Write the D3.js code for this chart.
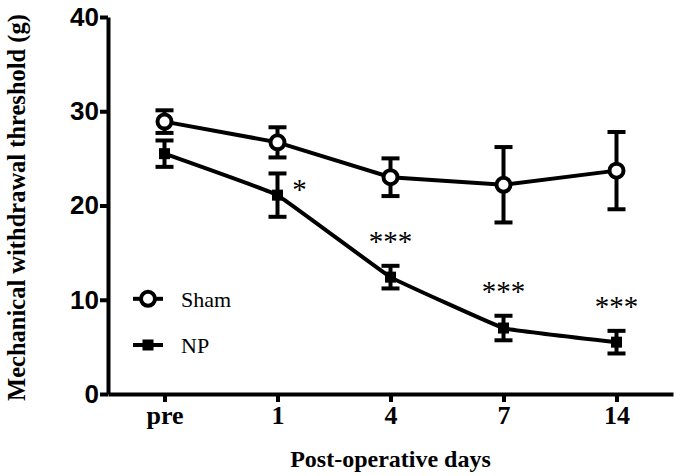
<!DOCTYPE html>
<meta charset="utf-8">
<script src="https://d3js.org/d3.v7.min.js"></script>
<style>
  body { margin: 0; background: #fff; }
</style>
<div id="chart"></div>
<script>

// data (mean and SEM)
var days = ["pre", "1", "4", "7", "14"];
var shamMean = [28.9, 26.7, 23.0, 22.2, 23.7];
var shamErr  = [1.2, 1.6, 2.0, 4.0, 4.1];
var npMean   = [25.5, 21.1, 12.4, 7.0, 5.5];
var npErr    = [1.4, 2.3, 1.2, 1.3, 1.2];
var marks    = ["", "*", "***", "***", "***"];
var yTicks   = [0, 10, 20, 30, 40];

var W = 680, H = 476;
var margin = {top: 17, right: 7, bottom: 82, left: 108},
    width = W - margin.left - margin.right,
    height = H - margin.top - margin.bottom;

var serif = "'Liberation Serif', 'Times New Roman', serif";

var svg = d3.select("#chart")
  .append("svg")
    .attr("width", W)
    .attr("height", H)
  .append("g")
    .attr("transform", "translate(" + margin.left + "," + margin.top + ")");

// x is a linear index scale so the axis runs half a step past each end
var x = d3.scaleLinear()
  .domain([-0.5, days.length - 0.5])
  .range([0, width]);

var y = d3.scaleLinear()
  .domain([0, 40])
  .range([height, 0]);

// axes
var xAxis = svg.append("g")
  .attr("transform", "translate(0," + height + ")")
  .call(d3.axisBottom(x)
    .tickValues(d3.range(days.length))
    .tickFormat(function(i) { return days[i]; })
    .tickSize(8)
    .tickSizeOuter(0));

var yAxis = svg.append("g")
  .call(d3.axisLeft(y)
    .tickValues(yTicks)
    .tickSize(8)
    .tickSizeOuter(0));

[xAxis, yAxis].forEach(function(a) {
  a.select(".domain").attr("stroke", "#000").attr("stroke-width", 4);
  a.selectAll(".tick line").attr("stroke", "#000").attr("stroke-width", 4);
});

xAxis.selectAll(".tick text")
  .attr("font-family", serif)
  .attr("font-weight", "bold")
  .attr("font-size", 26)
  .attr("y", 12)
  .attr("dy", "0.71em")
  .attr("fill", "#000");

yAxis.selectAll(".tick text")
  .attr("font-family", "'Liberation Sans', Arial, sans-serif")
  .attr("font-weight", "bold")
  .attr("font-size", 26)
  .attr("x", -9)
  .attr("fill", "#000");

// axis titles
svg.append("text")
  .attr("x", x(2))
  .attr("y", height + 73)
  .attr("text-anchor", "middle")
  .attr("font-family", serif)
  .attr("font-weight", "bold")
  .attr("font-size", 24)
  .text("Post-operative days");

svg.append("text")
  .attr("transform", "translate(" + (-83) + "," + (height / 2 + 2) + ") rotate(-90)")
  .attr("text-anchor", "middle")
  .attr("font-family", serif)
  .attr("font-weight", "bold")
  .attr("font-size", 24.5)
  .text("Mechanical withdrawal threshold (g)");

function drawSeries(mean, err, symbol, curve) {
  var g = svg.append("g");
  var line = d3.line()
    .x(function(d, i) { return x(i); })
    .y(function(d) { return y(d); })
    .curve(curve);

  g.append("path")
    .datum(mean)
    .attr("fill", "none")
    .attr("stroke", "#000")
    .attr("stroke-width", 4)
    .attr("d", line);

  // error bars
  var eb = g.selectAll(".eb")
    .data(mean)
    .enter().append("g");
  eb.append("line")
    .attr("x1", function(d, i) { return x(i); })
    .attr("x2", function(d, i) { return x(i); })
    .attr("y1", function(d, i) { return y(d + err[i]); })
    .attr("y2", function(d, i) { return y(d - err[i]); })
    .attr("stroke", "#000").attr("stroke-width", 4);
  [1, -1].forEach(function(s) {
    eb.append("line")
      .attr("x1", function(d, i) { return x(i) - 9; })
      .attr("x2", function(d, i) { return x(i) + 9; })
      .attr("y1", function(d, i) { return y(d + s * err[i]); })
      .attr("y2", function(d, i) { return y(d + s * err[i]); })
      .attr("stroke", "#000").attr("stroke-width", 4);
  });

  if (symbol === "circle") {
    g.selectAll("circle")
      .data(mean)
      .enter().append("circle")
        .attr("cx", function(d, i) { return x(i); })
        .attr("cy", function(d) { return y(d); })
        .attr("r", 7)
        .attr("fill", "#fff")
        .attr("stroke", "#000")
        .attr("stroke-width", 4);
  } else {
    g.selectAll("rect")
      .data(mean)
      .enter().append("rect")
        .attr("x", function(d, i) { return x(i) - 5.5; })
        .attr("y", function(d) { return y(d) - 5.5; })
        .attr("width", 11)
        .attr("height", 11)
        .attr("fill", "#000");
  }
}

drawSeries(shamMean, shamErr, "circle", d3.curveLinear);
drawSeries(npMean, npErr, "square", d3.curveCardinal.tension(0.8));

// significance marks
svg.selectAll(".sig")
  .data(marks)
  .enter().append("text")
    .attr("x", function(d, i) { return i === 1 ? x(i) + 22 : x(i); })
    .attr("y", function(d, i) { return i === 1 ? y(npMean[i]) + 4 : y(npMean[i] + npErr[i]) - 15; })
    .attr("text-anchor", "middle")
    .attr("font-family", serif)
    .attr("font-size", 29)
    .text(function(d) { return d; });

// legend
var legend = svg.append("g").attr("transform", "translate(25,0)");
[["Sham", "circle", 10.1], ["NP", "square", 5.2]].forEach(function(item) {
  var cy = y(item[2]);
  var lg = legend.append("g");
  lg.append("line")
    .attr("x1", 0).attr("x2", 30)
    .attr("y1", cy).attr("y2", cy)
    .attr("stroke", "#000").attr("stroke-width", 4);
  if (item[1] === "circle") {
    lg.append("circle")
      .attr("cx", 15).attr("cy", cy).attr("r", 7)
      .attr("fill", "#fff").attr("stroke", "#000").attr("stroke-width", 4);
  } else {
    lg.append("rect")
      .attr("x", 9.5).attr("y", cy - 5.5).attr("width", 11).attr("height", 11)
      .attr("fill", "#000");
  }
  lg.append("text")
    .attr("x", 48).attr("y", cy)
    .attr("dy", "0.35em")
    .attr("font-family", serif)
    .attr("font-size", 22)
    .text(item[0]);
});

</script>
